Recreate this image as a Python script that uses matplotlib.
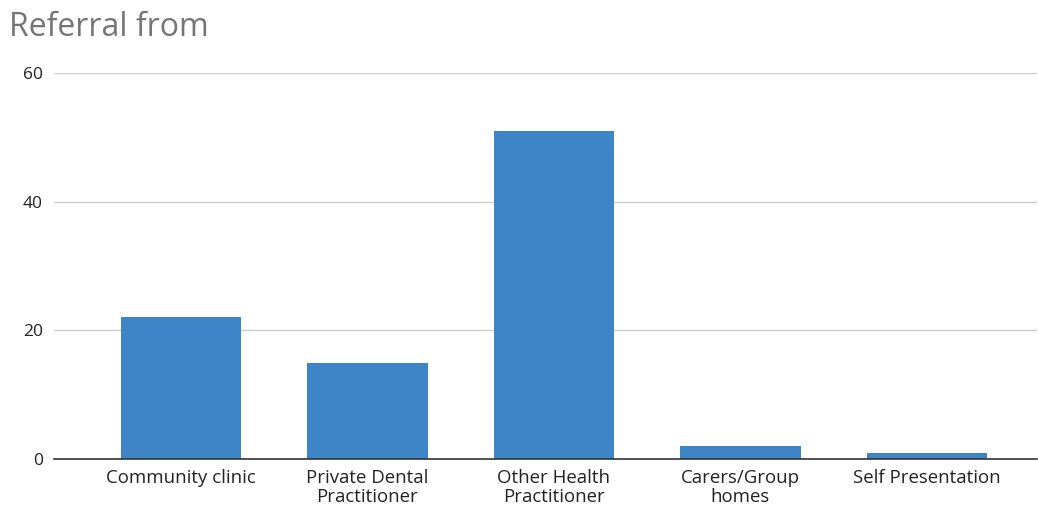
import matplotlib
matplotlib.use("Agg")
import matplotlib.pyplot as plt

categories = ["Community clinic", "Private Dental\nPractitioner", "Other Health\nPractitioner",
              "Carers/Group\nhomes", "Self Presentation"]
values = [22, 15, 51, 2, 1]
yticks = [0, 20, 40, 60]
title = "Referral from"

plt.rcParams['font.family'] = ['Open Sans', 'DejaVu Sans']

W, H = 1038, 507
fig = plt.figure(figsize=(W/100, H/100), dpi=100)
ax = fig.add_axes([54/W, (H-459)/H, (1037-54)/W, (459-73)/H])

x = list(range(len(categories)))
ax.bar(x, values, width=0.645, color="#3d85c6", zorder=3)

ax.set_ylim(0, 60)
ax.set_xlim(-0.68, 4.59)
ax.set_yticks(yticks)
ax.set_yticklabels([str(v) for v in yticks], fontsize=12.5, color="#222222")
ax.set_xticks(x)
ax.set_xticklabels(categories, fontsize=13.4, color="#222222", linespacing=1.08)
ax.tick_params(axis='both', length=0)
ax.tick_params(axis='y', pad=8)
ax.tick_params(axis='x', pad=7)
ax.grid(axis='y', color="#cccccc", linewidth=1, zorder=0)
for s in ['top', 'right', 'left']:
    ax.spines[s].set_visible(False)
ax.spines['bottom'].set_color("#333333")
ax.spines['bottom'].set_linewidth(1.2)
ax.spines['bottom'].set_zorder(4)

fig.text(9/W, 1-28/H, title, fontsize=23, color="#757575", ha='left', va='center')

fig.savefig("out.png", dpi=100)
